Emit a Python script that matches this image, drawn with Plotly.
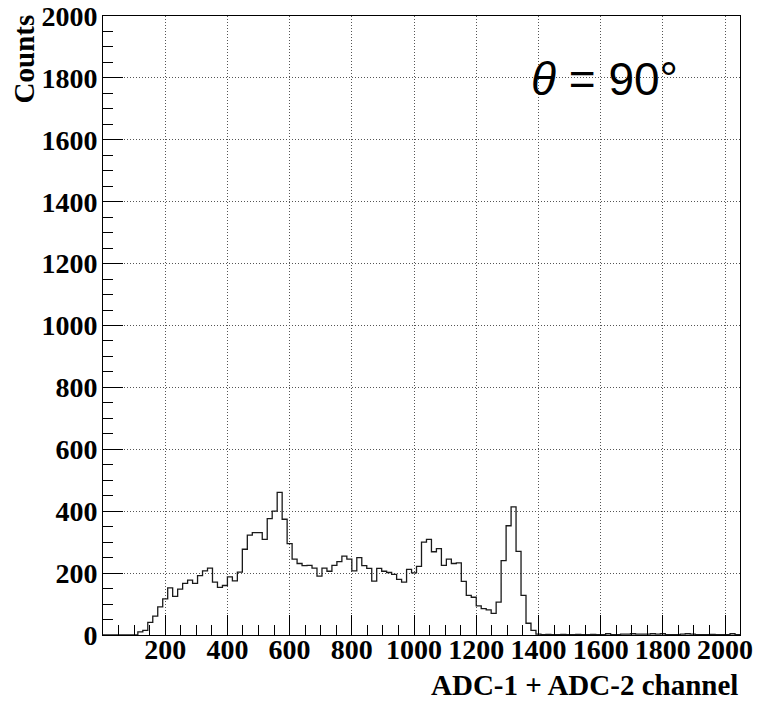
import plotly.graph_objects as go

# Histogram binning: 128 bins of 16 channels covering 0..2048
bin_width = 16
n_bins = 128

counts = [
    0, 0, 0, 0, 0, 0, 0,
    10, 15, 41, 61, 91, 117, 152, 125, 148, 167, 177, 167, 192, 207, 216,
    171, 154, 160, 188, 175, 203, 277, 323, 331, 331, 309, 376, 400, 461,
    374, 295, 245, 231, 224, 225, 216, 190, 216, 206, 225, 237, 255, 245,
    207, 250, 224, 215, 174, 215, 206, 202, 196, 180, 171, 212, 201, 222,
    300, 309, 269, 279, 225, 245, 231, 233, 173, 128, 122, 94, 85, 81, 70,
    106, 240, 353, 414, 270, 128, 38, 15, 3,
    1, 2, 1, 1, 2, 1, 1, 2, 1, 1, 2, 1, 1,
    4, 1, 1, 3, 3, 4, 3, 3, 3, 4, 3, 4, 1, 1, 1, 3, 4, 3, 1, 1, 1, 2, 1,
    1, 1, 4, 1,
]
assert len(counts) == n_bins

x_ticks = [200, 400, 600, 800, 1000, 1200, 1400, 1600, 1800, 2000]
y_ticks = [0, 200, 400, 600, 800, 1000, 1200, 1400, 1600, 1800, 2000]

edges = [i * bin_width for i in range(n_bins + 1)]
step_y = counts + [counts[-1]]

serif_bold = dict(family="Liberation Serif", size=28, color="black", weight="bold")

fig = go.Figure()
fig.add_trace(go.Scatter(
    x=edges, y=step_y, mode="lines", line_shape="hv",
    line=dict(color="#1a1a1a", width=1.3), hoverinfo="skip", showlegend=False,
))

axis_common = dict(
    showline=True, linecolor="black", linewidth=1, mirror=True,
    ticks="inside", ticklen=20, tickwidth=1, tickcolor="black",
    tickfont=serif_bold, automargin=False,
    showgrid=True, gridcolor="#555555", griddash="1px,2px", gridwidth=1,
    zeroline=False,
    minor=dict(tickmode="linear", tick0=0, dtick=50, ticks="inside",
               ticklen=10, tickcolor="black", tickwidth=1, showgrid=False),
)

fig.update_layout(
    width=759, height=702,
    margin=dict(l=103, r=19, t=16, b=67, pad=0),
    paper_bgcolor="white", plot_bgcolor="white",
    xaxis=dict(range=[0, 2048], tickmode="array", tickvals=x_ticks,
               ticktext=[str(v) for v in x_ticks], ticklabelstandoff=-11,
               **axis_common),
    yaxis=dict(range=[0, 2000], tickmode="array", tickvals=y_ticks,
               ticktext=[str(v) for v in y_ticks], ticklabelstandoff=-1,
               **axis_common),
)

fig.add_annotation(
    text="ADC-1 + ADC-2 channel", xref="paper", yref="paper",
    x=1.0, y=-0.080, xanchor="right", yanchor="middle", showarrow=False,
    font=dict(family="Liberation Serif", size=29, color="black", weight="bold"),
)
fig.add_annotation(
    text="Counts", xref="paper", yref="paper", textangle=-90,
    x=-0.124, y=1.005, xanchor="center", yanchor="top", showarrow=False,
    font=dict(family="Liberation Serif", size=29, color="black", weight="bold"),
)
fig.add_annotation(
    text="<i>θ</i> = 90°", xref="paper", yref="paper",
    x=(529 - 103) / 637, y=(635 - 79) / 619, xanchor="left", yanchor="middle",
    showarrow=False,
    font=dict(family="Liberation Sans", size=46, color="black"),
)

fig.write_html("out.html")
